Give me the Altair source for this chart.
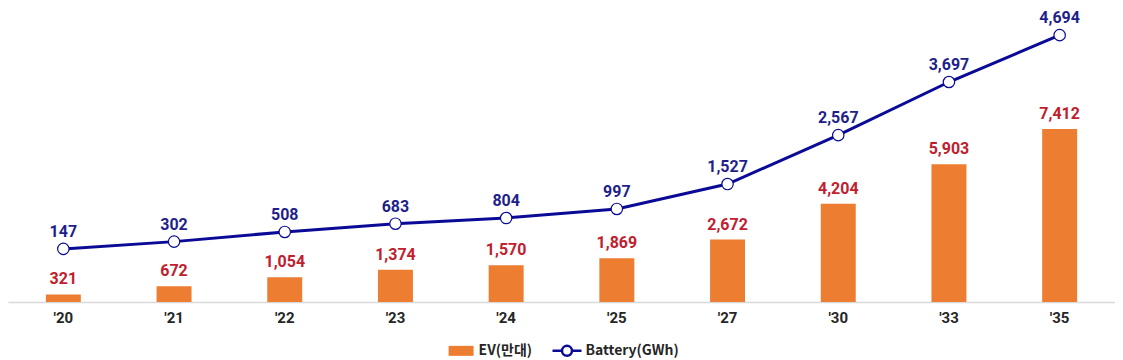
import altair as alt
import pandas as pd

years = ["'20", "'21", "'22", "'23", "'24", "'25", "'27", "'30", "'33", "'35"]
ev = [321, 672, 1054, 1374, 1570, 1869, 2672, 4204, 5903, 7412]
battery = [147, 302, 508, 683, 804, 997, 1527, 2567, 3697, 4694]

df = pd.DataFrame({"year": years, "ev": ev, "battery": battery})
df["s1"] = "EV(만대)"
df["s2"] = "Battery(GWh)"

ORANGE = "#ED7D31"
RED = "#C0202E"
NAVY = "#0A0A96"
NAVY_T = "#1F1F8C"
FONT = "Roboto"
KFONT = "Noto Sans CJK KR"

x = alt.X("year:N", sort=years, title=None,
          axis=alt.Axis(labelAngle=0, labelFont=FONT, labelFontSize=15, labelFontWeight="bold",
                        labelColor="#262626", ticks=False, tickSize=0, labelPadding=21,
                        labelBaseline="alphabetic", domainColor="#D9D9D9", domainWidth=1.5,
                        grid=False))

yev = alt.Y("ev:Q", scale=alt.Scale(domain=[0, 12168], nice=False, zero=False), axis=None, title=None)
ybat = alt.Y("battery:Q", scale=alt.Scale(domain=[-980, 5055], nice=False, zero=False), axis=None, title=None)

bar_sym = "M-2.5,-1H2.5V1H-2.5Z"
line_sym = "M-2.9,0H-1M1,0H2.9M-1,0A1,1 0 1,0 1,0A1,1 0 1,0 -1,0"

bars = alt.Chart(df).mark_bar(size=35).encode(
    x=x, y=yev,
    color=alt.Color("s1:N", scale=alt.Scale(domain=["EV(만대)"], range=[ORANGE]),
                    legend=alt.Legend(orient="none", legendX=446.5, legendY=326, title=None,
                                      symbolType=bar_sym, symbolSize=100, symbolStrokeWidth=0,
                                      labelOffset=10.5, labelFont=KFONT, labelFontSize=14,
                                      labelFontWeight="bold", labelColor="#262626", padding=0))
)
bar_text = alt.Chart(df).mark_text(font=FONT, fontSize=16, fontWeight="bold", color=RED,
                                   baseline="alphabetic", dy=-10).encode(
    x=x, y=yev, text=alt.Text("ev:Q", format=",")
)

line = alt.Chart(df).mark_line(strokeWidth=3).encode(
    x=x, y=ybat,
    stroke=alt.Stroke("s2:N", scale=alt.Scale(domain=["Battery(GWh)"], range=[NAVY]),
                      legend=alt.Legend(orient="none", legendX=552.5, legendY=326, title=None,
                                        symbolType=line_sym, symbolSize=100, symbolStrokeWidth=2.5,
                                        symbolFillColor="white",
                                        labelOffset=11.5, labelFont=KFONT, labelFontSize=14,
                                        labelFontWeight="bold", labelColor="#262626", padding=0))
)
points = alt.Chart(df).mark_point(filled=True, fill="white", stroke=NAVY, strokeWidth=1.2,
                                  size=130, opacity=1).encode(x=x, y=ybat)
line_text = alt.Chart(df).mark_text(font=FONT, fontSize=16, fontWeight="bold", color=NAVY_T,
                                    baseline="alphabetic", dy=-12).encode(
    x=x, y=ybat, text=alt.Text("battery:Q", format=",")
)

chart = alt.layer(
    alt.layer(bars, bar_text),
    alt.layer(line, points, line_text),
).resolve_scale(y="independent").properties(
    width=1108, height=284,
    background="white",
    autosize=alt.AutoSizeParams(type="none"),
    padding={"left": 0, "right": 0, "top": 10, "bottom": 70},
).configure_view(strokeWidth=0, stroke=None)

chart.save("out.html", embed_options={"renderer": "svg", "actions": False})
